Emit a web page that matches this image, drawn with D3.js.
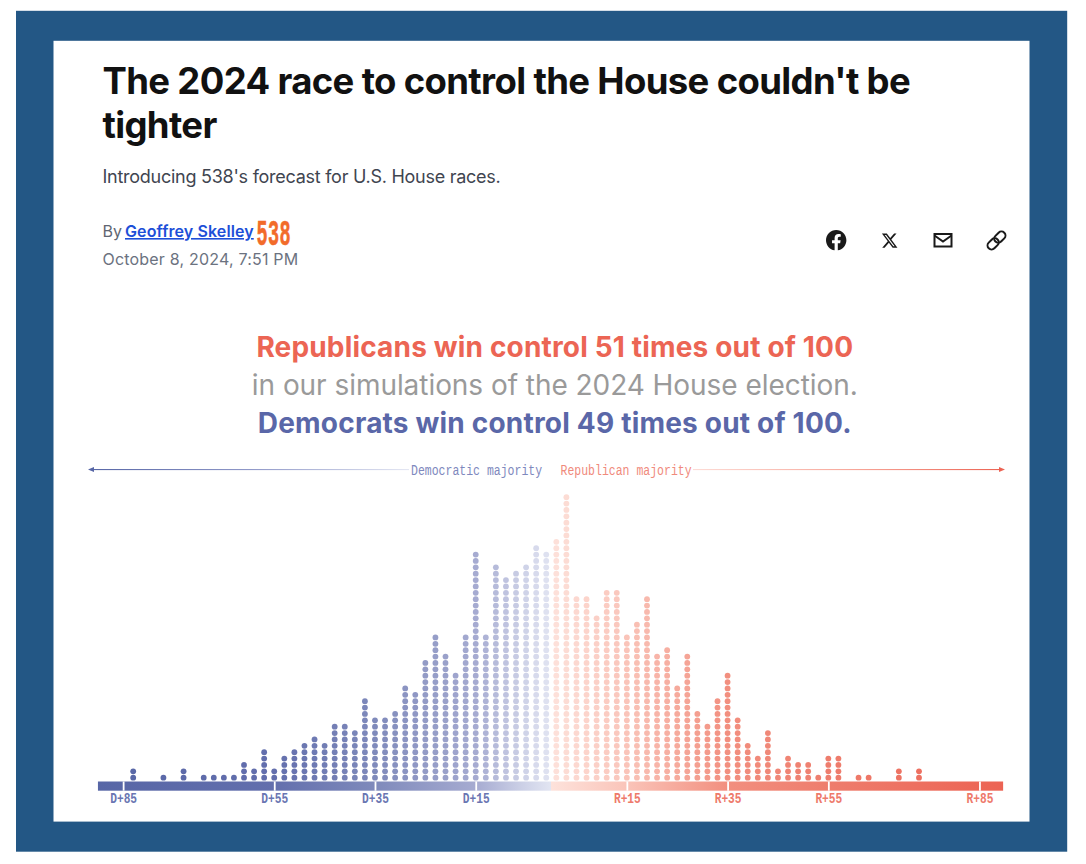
<!DOCTYPE html>
<html><head><meta charset="utf-8">
<script src="https://cdn.jsdelivr.net/npm/d3@7"></script>
<style>html,body{margin:0;padding:0;background:#fff}svg{display:block}text{font-family:Inter,sans-serif}</style>
</head><body><div id="chart"></div>
<script>
const titleLines = ["The 2024 race to control the House couldn't be", "tighter"];
const subtitle = "Introducing 538's forecast for U.S. House races.";
const headline = ["Republicans win control 51 times out of 100", "in our simulations of the 2024 House election.", "Democrats win control 49 times out of 100."];
const margins = [-83,-81,-79,-77,-75,-73,-71,-69,-67,-65,-63,-61,-59,-57,-55,-53,-51,-49,-47,-45,-43,-41,-39,-37,-35,-33,-31,-29,-27,-25,-23,-21,-19,-17,-15,-13,-11,-9,-7,-5,-3,-1,1,3,5,7,9,11,13,15,17,19,21,23,25,27,29,31,33,35,37,39,41,43,45,47,49,51,53,55,57,59,61,63,65,67,69,71,73];
const counts = [2,0,0,1,0,2,0,1,1,1,1,3,2,5,2,4,5,6,7,6,9,9,8,13,10,10,11,15,14,19,23,20,17,23,36,23,34,32,33,34,37,36,38,45,29,29,26,30,30,23,25,29,20,21,15,20,11,9,13,17,10,6,4,8,2,4,3,3,1,4,4,0,1,1,0,0,2,0,2];
const tickValues = [-85,-55,-35,-15,15,35,55,85];
const tickLabels = ["D+85","D+55","D+35","D+15","R+15","R+35","R+55","R+85"];
const colorStops = [-90,-55,-35,-15,-5,-0.01,0.01,15,35,55,90];
const colorValues = ["#5766a6","#636fad","#7f8abb","#a6abd1","#cfd3e8","#e2e5f2","#fde2db","#fac4b9","#f28f7f","#ee7d6d","#ec6353"];

const svg = d3.select("#chart").append("svg").attr("width",1086).attr("height",864);
const defs = svg.append("defs");

svg.append("rect").attr("x",16).attr("y",10.8).attr("width",1051.2).attr("height",840.9).attr("fill","#235785");
svg.append("rect").attr("x",53.5).attr("y",40.8).attr("width",976).attr("height",780.8).attr("fill","#fff");

// header
svg.selectAll("text.title").data(titleLines).join("text").attr("class","title")
  .attr("x",102.5).attr("y",(d,i)=>94+i*44).text(d=>d)
  .attr("font-size",36.5).attr("font-weight",700).attr("letter-spacing",-0.65).attr("fill","#111");
svg.append("text").attr("x",102.5).attr("y",183).text(subtitle).attr("font-size",18).attr("fill","#3f4550").attr("letter-spacing",-0.26);
svg.append("text").attr("x",102.5).attr("y",237).text("By").attr("font-size",16).attr("fill","#5f6672");
svg.append("text").attr("x",125).attr("y",237).text("Geoffrey Skelley").attr("font-size",16).attr("font-weight",600)
  .attr("fill","#1d4fd8").attr("text-decoration","underline").attr("letter-spacing",0.1);
svg.append("text").attr("transform","translate(256.5,245) scale(1,2)").text("538")
  .attr("font-size",18.5).attr("font-weight",700).attr("fill","#f26b2a").attr("stroke","#f26b2a").attr("stroke-width",0.3)
  .style("font-family","'Liberation Mono',monospace").attr("letter-spacing",0.4);
svg.append("text").attr("x",102.5).attr("y",265).text("October 8, 2024, 7:51 PM").attr("font-size",16).attr("fill","#6b7280").attr("letter-spacing",0.2);

// share icons
const ic = "#1a1a1a";
svg.append("path").attr("transform","translate(826,230) scale(0.85)").attr("fill",ic)
  .attr("d","M24 12.073c0-6.627-5.373-12-12-12s-12 5.373-12 12c0 5.99 4.388 10.954 10.125 11.854v-8.385H7.078v-3.47h3.047V9.43c0-3.007 1.792-4.669 4.533-4.669 1.312 0 2.686.235 2.686.235v2.953H15.83c-1.491 0-1.956.925-1.956 1.874v2.25h3.328l-.532 3.47h-2.796v8.385C19.612 23.027 24 18.062 24 12.073z");
svg.append("path").attr("transform","translate(881,232) scale(0.72)").attr("fill",ic)
  .attr("d","M18.244 2.25h3.308l-7.227 8.26 8.502 11.24H16.17l-5.214-6.817L4.99 21.75H1.68l7.73-8.835L1.254 2.25H8.08l4.713 6.231zm-1.161 17.52h1.833L7.084 4.126H5.117z");
const mail = svg.append("g").attr("fill","none").attr("stroke",ic).attr("stroke-width",2);
mail.append("rect").attr("x",934.5).attr("y",234).attr("width",17).attr("height",12.5);
mail.append("path").attr("d","M934.5 235.5L943 241.5L951.5 235.5");
const link = svg.append("g").attr("transform","translate(996.5,240.5) rotate(-45)").attr("fill","none").attr("stroke",ic).attr("stroke-width",2);
link.append("rect").attr("x",-11).attr("y",-4).attr("width",12.5).attr("height",8).attr("rx",4);
link.append("rect").attr("x",-1.5).attr("y",-4).attr("width",12.5).attr("height",8).attr("rx",4);

// headline
const hlColor = ["#ec6554","#9a9a9a","#5a67a8"], hlWeight=[700,400,700], hlSpacing=[0.17,-0.05,0.2];
svg.selectAll("text.hl").data(headline).join("text").attr("class","hl")
  .attr("x",554.8).attr("y",(d,i)=>357+i*37.8).attr("text-anchor","middle").text(d=>d)
  .attr("font-size",28).attr("font-weight",(d,i)=>hlWeight[i]).attr("fill",(d,i)=>hlColor[i]).attr("letter-spacing",(d,i)=>hlSpacing[i]);

// scales
const x = d3.scaleLinear().domain([-83,73]).range([133.2,919]);
const y = d3.scaleLinear().domain([0,44]).range([777.7,497.2]);
const color = d3.scaleLinear().domain(colorStops).range(colorValues).interpolate(d3.interpolateRgb);

const barMin = -90, barMax = 89.7;
function grad(id,x1,x2,stops){
  const g = defs.append("linearGradient").attr("id",id).attr("gradientUnits","userSpaceOnUse")
    .attr("x1",x1).attr("x2",x2).attr("y1",0).attr("y2",0);
  stops.forEach(s=>g.append("stop").attr("offset",s[0]).attr("stop-color",s[1]));
}
grad("barGrad",x(barMin),x(barMax),colorStops.map(v=>[Math.min(1,(x(v)-x(barMin))/(x(barMax)-x(barMin))),color(v)]));
grad("demArrow",88,409,[[0,"#5766a6"],[0.5,"#8f98c8"],[1,"#e4e7f3"]]);
grad("repArrow",693,1003,[[0,"#fddcd6"],[0.5,"#f8a99c"],[1,"#ec6353"]]);

// dots
const dots = margins.flatMap((m,i)=>d3.range(counts[i]).map(k=>({m,k})));
svg.append("g").selectAll("circle").data(dots).join("circle")
  .attr("cx",d=>x(d.m)).attr("cy",d=>y(d.k)).attr("r",2.9).attr("fill",d=>color(d.m));

// scale bar with axis
svg.append("rect").attr("x",x(barMin)).attr("y",781.5).attr("width",x(barMax)-x(barMin)).attr("height",9.2).attr("fill","url(#barGrad)");
const axis = d3.axisBottom(x).tickValues(tickValues).tickSize(9.2).tickFormat((d,i)=>tickLabels[i]);
const ag = svg.append("g").attr("transform","translate(0,781.5)").call(axis);
ag.select(".domain").remove();
ag.selectAll(".tick line").attr("stroke","#fff").attr("stroke-width",1.8);
ag.selectAll(".tick text")
  .attr("y",0).attr("dy",0).attr("transform","translate(0,21) scale(0.8,1)")
  .style("font-family","'Liberation Mono',monospace").attr("font-size",14).attr("font-weight",700)
  .attr("fill",d=>d<0?"#6a76b2":"#ee7a6b");

// majority arrows
const labelFont = "'Liberation Mono',monospace";
svg.append("rect").attr("x",90).attr("width",319).attr("y",469).attr("height",1.1).attr("fill","url(#demArrow)");
svg.append("rect").attr("x",693).attr("width",308).attr("y",469).attr("height",1.1).attr("fill","url(#repArrow)");
svg.append("path").attr("d","M88 469.5L94 467L94 472Z").attr("fill","#5766a6");
svg.append("path").attr("d","M1005 469.5L999 467L999 472Z").attr("fill","#ec6353");
svg.append("text").attr("transform","translate(411,474.5) scale(0.767,1)").text("Democratic majority").attr("font-size",15).attr("fill","#7e88bd").style("font-family",labelFont);
svg.append("text").attr("transform","translate(560.5,474.5) scale(0.767,1)").text("Republican majority").attr("font-size",15).attr("fill","#f08a7c").style("font-family",labelFont);
</script></body></html>
